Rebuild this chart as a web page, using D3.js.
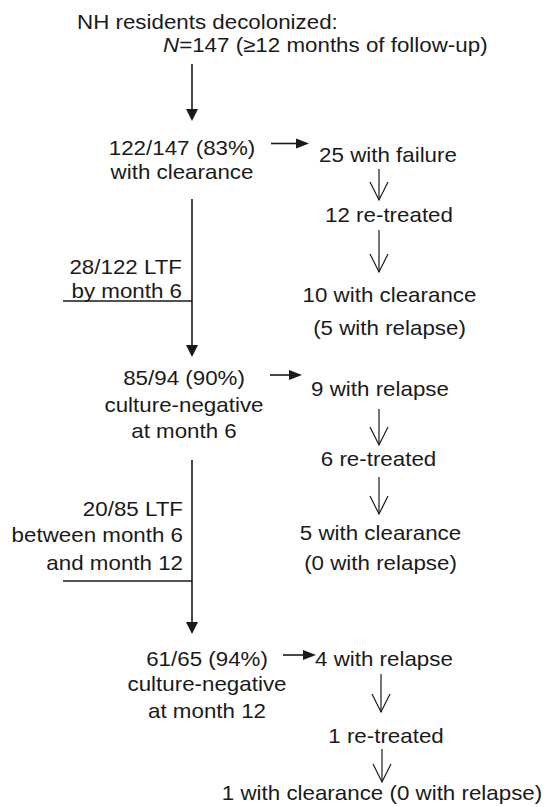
<!DOCTYPE html>
<html>
<head>
<meta charset="utf-8">
<script src="https://cdn.jsdelivr.net/npm/d3@7"></script>
<style>
  body { margin: 0; background: #fff; }
  text { font-family: "Liberation Sans", Arial, sans-serif; font-size: 20.5px; fill: #1a1a1a; }
</style>
</head>
<body>
<div id="chart"></div>
<script>
// flow text
var titleLines = ["NH residents decolonized:", "=147 (\u226512 months of follow-up)"];
var mainNodes = [
  ["122/147 (83%)", "with clearance"],
  ["85/94 (90%)", "culture-negative", "at month 6"],
  ["61/65 (94%)", "culture-negative", "at month 12"]
];
var lossNodes = [
  ["28/122 LTF", "by month 6"],
  ["20/85 LTF", "between month 6", "and month 12"]
];
var sideNodes = [
  [["25 with failure"], ["12 re-treated"], ["10 with clearance", "(5 with relapse)"]],
  [["9 with relapse"], ["6 re-treated"], ["5 with clearance", "(0 with relapse)"]],
  [["4 with relapse"], ["1 re-treated"], ["1 with clearance (0 with relapse)"]]
];

// layout (pixels)
var W = 545, H = 807, SX = 1.09, mainX = 192;
var mainPos = [
  {x: 182, y: [155, 179]},
  {x: 184, y: [385, 411.5, 437.5]},
  {x: 207, y: [666, 691, 718]}
];
var lossPos = [
  {x: 182, y: [274, 297.5], bar: 301, top: 199, tip: 357},
  {x: 183, y: [516, 542, 570], bar: 581, top: 460, tip: 634}
];
var sidePos = [
  {arrow: {y: 143.5, x1: 271, x2: 309},
   nodes: [{x: 388, y: [162]}, {x: 389, y: [222]}, {x: 389.5, y: [302, 335]}],
   links: [{x: 379, y1: 169, y2: 200}, {x: 379, y1: 230, y2: 272}]},
  {arrow: {y: 375, x1: 270, x2: 302},
   nodes: [{x: 380, y: [396]}, {x: 378.5, y: [465.5]}, {x: 380.5, y: [540, 570]}],
   links: [{x: 379, y1: 409, y2: 445}, {x: 379, y1: 477, y2: 514}]},
  {arrow: {y: 655, x1: 283, x2: 316},
   nodes: [{x: 315, y: [666], anchor: "start"}, {x: 386, y: [743]}, {x: 382, y: [800]}],
   links: [{x: 381, y1: 674, y2: 712}, {x: 382, y1: 749, y2: 782}]}
];

var svg = d3.select("#chart").append("svg").attr("width", W).attr("height", H);
var ink = "#1a1a1a";

function label(x, y, str, anchor) {
  return svg.append("text")
    .attr("transform", "translate(" + x + "," + y + ") scale(" + SX + ",1)")
    .attr("text-anchor", anchor || "middle")
    .text(str);
}

function block(lines, pos, anchor) {
  lines.forEach(function(s, i) { label(pos.x, pos.y[i], s, pos.anchor || anchor); });
}

function downArrow(x, y1, y2) {
  svg.append("line").attr("x1", x).attr("x2", x).attr("y1", y1).attr("y2", y2 - 10)
    .attr("stroke", ink).attr("stroke-width", 1.6);
  svg.append("path").attr("d", "M" + (x - 6) + "," + (y2 - 12) + "L" + (x + 6) + "," + (y2 - 12) + "L" + x + "," + y2 + "Z")
    .attr("fill", ink);
}

function rightArrow(a) {
  svg.append("line").attr("x1", a.x1).attr("x2", a.x2 - 10).attr("y1", a.y).attr("y2", a.y)
    .attr("stroke", ink).attr("stroke-width", 1.6);
  svg.append("path").attr("d", "M" + (a.x2 - 13) + "," + (a.y - 5) + "L" + a.x2 + "," + a.y + "L" + (a.x2 - 13) + "," + (a.y + 5) + "Z")
    .attr("fill", ink);
}

function openArrow(l) {
  svg.append("line").attr("x1", l.x).attr("x2", l.x).attr("y1", l.y1).attr("y2", l.y2)
    .attr("stroke", ink).attr("stroke-width", 1.2);
  svg.append("path").attr("d", "M" + (l.x - 9) + "," + (l.y2 - 18) + "L" + l.x + "," + l.y2 + "L" + (l.x + 9) + "," + (l.y2 - 18))
    .attr("fill", "none").attr("stroke", ink).attr("stroke-width", 1.2);
}

// title
label(77, 28.5, titleLines[0], "start");
var t2 = label(163, 52, "", "start");
t2.append("tspan").attr("font-style", "italic").text("N");
t2.append("tspan").text(titleLines[1]);
downArrow(mainX, 64, 121);

// main column
mainNodes.forEach(function(n, i) { block(n, mainPos[i]); });

// losses to follow-up
lossNodes.forEach(function(n, i) {
  var p = lossPos[i];
  block(n, p, "end");
  downArrow(mainX, p.top, p.tip);
  svg.append("line").attr("x1", 63).attr("x2", mainX).attr("y1", p.bar).attr("y2", p.bar)
    .attr("stroke", ink).attr("stroke-width", 1.6);
});

// side branches
sideNodes.forEach(function(group, i) {
  var p = sidePos[i];
  rightArrow(p.arrow);
  group.forEach(function(n, j) { block(n, p.nodes[j]); });
  p.links.forEach(openArrow);
});
</script>
</body>
</html>
